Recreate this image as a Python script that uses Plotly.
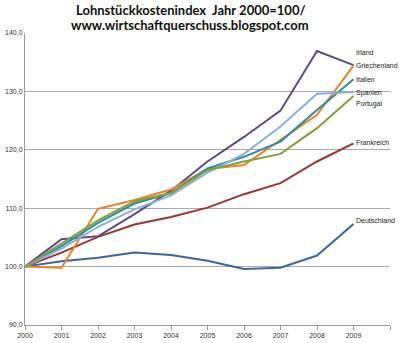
import plotly.graph_objects as go

years = [2000, 2001, 2002, 2003, 2004, 2005, 2006, 2007, 2008, 2009]

deutschland = [100.0, 100.9, 101.5, 102.4, 102.0, 101.0, 99.6, 99.8, 101.9, 107.3]
frankreich = [100.0, 102.4, 105.1, 107.2, 108.5, 110.1, 112.4, 114.3, 118.0, 121.1]
irland = [100.0, 104.7, 105.2, 109.0, 113.0, 118.0, 122.2, 126.7, 136.9, 134.5]
griechenland = [100.0, 99.8, 109.9, 111.4, 113.2, 116.7, 117.4, 121.7, 126.0, 134.4]
italien = [100.0, 103.5, 107.5, 110.8, 112.6, 116.8, 118.8, 121.4, 126.8, 132.1]
spanien = [100.0, 103.1, 106.8, 109.8, 112.2, 116.1, 119.3, 124.0, 129.6, 129.9]
portugal = [100.0, 103.9, 107.9, 111.2, 112.6, 116.5, 118.0, 119.3, 123.7, 129.2]

names = ["Deutschland", "Frankreich", "Irland", "Griechenland", "Italien", "Spanien", "Portugal"]
series = [deutschland, frankreich, irland, griechenland, italien, spanien, portugal]
colors = ["#3D679C", "#953735", "#5E4A7E", "#E8832A", "#2F8AA3", "#8FAED4", "#7FA040"]
label_shift = [3, 1, 13, 0, 0, -1, -8]

title_lines = ["Lohnstückkostenindex  Jahr 2000=100/", "www.wirtschaftquerschuss.blogspot.com"]

fig = go.Figure()
for name, vals, col in zip(names, series, colors):
    fig.add_trace(go.Scatter(x=years, y=vals, mode="lines", name=name,
                             line=dict(color=col, width=2)))

for name, vals, sh in zip(names, series, label_shift):
    fig.add_annotation(x=years[-1], y=vals[-1], text=name, showarrow=False,
                       xanchor="left", yanchor="middle", xshift=0, yshift=sh,
                       font=dict(family="Liberation Sans, Arial", size=7, color="#1a1a1a"))

# title as two centered annotations
plot_h = 343 - 33 - 18
for i, line in enumerate(title_lines):
    fig.add_annotation(xref="paper", yref="paper", x=0.453, y=1 + (23 - 15 * i) / plot_h,
                       text=line, showarrow=False, xanchor="center", yanchor="middle",
                       font=dict(family="Lato, Open Sans, sans-serif", size=13,
                                 color="#111111", weight="bold"))

fig.update_layout(
    width=400, height=343,
    margin=dict(l=25, r=10, t=33, b=18),
    paper_bgcolor="white", plot_bgcolor="white",
    showlegend=False,
    separators=",.",
    xaxis=dict(range=[2000, 2010], tickvals=years + [2010],
               ticktext=[str(y) for y in years] + [""], automargin=False,
               showgrid=False, zeroline=False, showline=True, linecolor="#9a9a9a", linewidth=1,
               ticks="outside", ticklen=4, tickcolor="#9a9a9a",
               tickfont=dict(family="Liberation Sans, Arial", size=7, color="#333333")),
    yaxis=dict(range=[90, 140], dtick=10, tickformat=".1f", automargin=False,
               showgrid=True, gridcolor="#ababab", gridwidth=1, zeroline=False,
               showline=True, linecolor="#9a9a9a", linewidth=1, ticks="",
               tickfont=dict(family="Liberation Sans, Arial", size=7, color="#333333")),
)

fig.write_html("out.html")
